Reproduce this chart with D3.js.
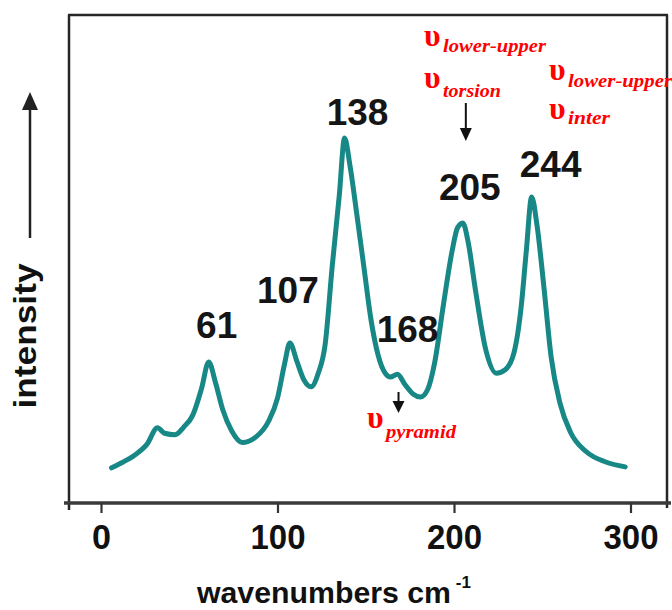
<!DOCTYPE html>
<html>
<head>
<meta charset="utf-8">
<script src="https://cdn.jsdelivr.net/npm/d3@7"></script>
<style>
  body { margin: 0; background: #fff; }
  svg { display: block; }
</style>
</head>
<body>
<svg id="chart" width="672" height="610"></svg>
<script>
// Raman spectrum, wavenumber (cm-1) vs intensity (arbitrary units)
const wavenumbers = [6, 12, 19, 26, 32, 36, 42, 47, 52, 57, 61, 65, 69, 74, 80, 88, 95, 100, 104, 107,
  111, 115, 119, 123, 127, 131, 135, 138, 141, 145, 149, 153, 157, 161, 164, 168, 172, 177, 181, 185,
  189, 194, 199, 202, 205, 208, 212, 218, 224, 229, 234, 238, 241, 244, 247, 251, 255, 260, 266, 275, 286, 297];
const intensity = [7.2, 8.3, 9.8, 12.0, 15.4, 14.3, 14.0, 15.6, 18.0, 23.5, 28.9, 24.5, 19.1, 14.8, 12.4, 13.6, 16.8, 21.5, 28.5, 32.8,
  29.0, 25.2, 23.8, 26.5, 32.5, 48.5, 63.0, 74.8, 69.3, 59.0, 48.2, 37.5, 30.3, 26.6, 25.8, 26.4, 24.4, 22.3, 21.7, 23.2,
  28.7, 40.6, 51.8, 56.4, 57.4, 53.5, 44.0, 31.4, 26.6, 27.3, 30.8, 40.0, 51.8, 62.7, 57.0, 44.0, 30.0, 20.5, 14.5, 10.5, 8.4, 7.4];

const xTicks = [0, 100, 200, 300];

// labelled band positions
const peakPositions = [61, 107, 138, 168, 205, 244];
const peakLabels = ["61", "107", "138", "168", "205", "244"];

// vibrational mode assignments (symbol + subscript)
const modeSymbols = ["υ", "υ", "υ", "υ", "υ"];
const modeSubs = ["lower-upper", "torsion", "lower-upper", "inter", "pyramid"];

const svg = d3.select("#chart");

const x = d3.scaleLinear().domain([0, 300]).range([101, 630.5]);
const y = d3.scaleLinear().domain([0, 100]).range([503, 15]);

const spectrum = wavenumbers.map((w, i) => ({ w, v: intensity[i] }));
const valueAt = w => intensity[wavenumbers.indexOf(w)];

// frame
const frame = svg.append("g").attr("stroke", "#262626").attr("stroke-width", 2.5).attr("fill", "none");
frame.append("line").attr("x1", 69).attr("x2", 69).attr("y1", 15).attr("y2", 510);
frame.append("line").attr("x1", 68).attr("x2", 668).attr("y1", 15).attr("y2", 15);
frame.append("line").attr("x1", 667).attr("x2", 667).attr("y1", 15).attr("y2", 508);
frame.append("line").attr("x1", 64).attr("x2", 671).attr("y1", 503).attr("y2", 503)
  .attr("stroke", "#3a3a3a").attr("stroke-width", 3.5);

// x axis
const xAxis = svg.append("g")
  .attr("transform", "translate(0,503)")
  .call(d3.axisBottom(x).tickValues(xTicks).tickSize(10).tickSizeOuter(0).tickPadding(11).tickFormat(d3.format("d")));
xAxis.select(".domain").remove();
xAxis.selectAll(".tick line").attr("stroke", "#333").attr("stroke-width", 2.2);
xAxis.selectAll(".tick text")
  .attr("fill", "#111")
  .attr("font-family", "'Liberation Sans', Arial, sans-serif")
  .attr("font-weight", "bold")
  .attr("font-size", 35)
  .attr("dy", "0.71em")
  .attr("textLength", d => d === 0 ? 19 : 55)
  .attr("lengthAdjust", "spacingAndGlyphs");

// x axis title
const xTitle = svg.append("text")
  .attr("x", 197).attr("y", 603)
  .attr("font-family", "'Liberation Sans', Arial, sans-serif")
  .attr("font-weight", "bold")
  .attr("font-size", 30)
  .attr("fill", "#111");
xTitle.append("tspan").text("wavenumbers cm").attr("textLength", 254).attr("lengthAdjust", "spacingAndGlyphs");
xTitle.append("tspan").text(" -1").attr("font-size", 17).attr("dy", -15);

// y axis title with arrow
svg.append("text")
  .attr("transform", "translate(36,336) rotate(-90)")
  .attr("text-anchor", "middle")
  .attr("font-family", "'Liberation Sans', Arial, sans-serif")
  .attr("font-weight", "bold")
  .attr("font-size", 31)
  .attr("fill", "#111")
  .attr("textLength", 145)
  .attr("lengthAdjust", "spacingAndGlyphs")
  .text("intensity");
svg.append("line").attr("x1", 30).attr("x2", 30).attr("y1", 238).attr("y2", 106)
  .attr("stroke", "#222").attr("stroke-width", 2.5);
svg.append("path").attr("d", "M30,92 L38,110 L22,110 Z").attr("fill", "#222");

// spectrum trace
const line = d3.line().x(d => x(d.w)).y(d => y(d.v)).curve(d3.curveMonotoneX);
svg.append("path")
  .datum(spectrum)
  .attr("d", line)
  .attr("fill", "none")
  .attr("stroke", "#178885")
  .attr("stroke-width", 5)
  .attr("stroke-linejoin", "round")
  .attr("stroke-linecap", "round");

// peak labels: offsets from the band maximum
const labelShift = { 61: [8, 24], 107: [-2, 40], 138: [13, 13], 168: [10, 32], 205: [7, 23], 244: [19, 20] };
svg.append("g")
  .selectAll("text")
  .data(peakPositions)
  .join("text")
  .attr("x", d => x(d) + labelShift[d][0])
  .attr("y", d => y(valueAt(d)) - labelShift[d][1])
  .attr("text-anchor", "middle")
  .attr("font-family", "'Liberation Sans', Arial, sans-serif")
  .attr("font-weight", "bold")
  .attr("font-size", 37)
  .attr("fill", "#151515")
  .text((d, i) => peakLabels[i]);

// mode assignments
const modePlace = [
  { x: 424, y: 46, sy: 52, w: 103 },
  { x: 424, y: 88, sy: 97, w: 58 },
  { x: 549, y: 80, sy: 87, w: 104 },
  { x: 549, y: 119, sy: 124, w: 42 },
  { x: 367, y: 428, sy: 438, w: 70 }
];
const modes = svg.append("g").attr("fill", "#ff0000").attr("font-family", "'Liberation Serif', 'Times New Roman', serif");
modeSubs.forEach((s, i) => {
  const p = modePlace[i];
  modes.append("text").attr("x", p.x).attr("y", p.y)
    .attr("font-size", 32).attr("font-weight", "bold")
    .text(modeSymbols[i]);
  modes.append("text").attr("x", p.x + 19).attr("y", p.sy)
    .attr("font-size", 19).attr("font-style", "italic").attr("font-weight", "bold")
    .attr("textLength", p.w).attr("lengthAdjust", "spacingAndGlyphs")
    .text(s);
});

// arrows pointing at the assigned bands
function downArrow(cx, y0, y1, hw, hl) {
  svg.append("line").attr("x1", cx).attr("x2", cx).attr("y1", y0).attr("y2", y1 - hl + 2)
    .attr("stroke", "#111").attr("stroke-width", 2);
  svg.append("path").attr("d", `M${cx},${y1} L${cx + hw},${y1 - hl} L${cx - hw},${y1 - hl} Z`).attr("fill", "#111");
}
downArrow(x(205) + 3, 103, 141, 6, 13);
downArrow(x(168) + 1, 392, 413, 6, 12);
</script>
</body>
</html>
